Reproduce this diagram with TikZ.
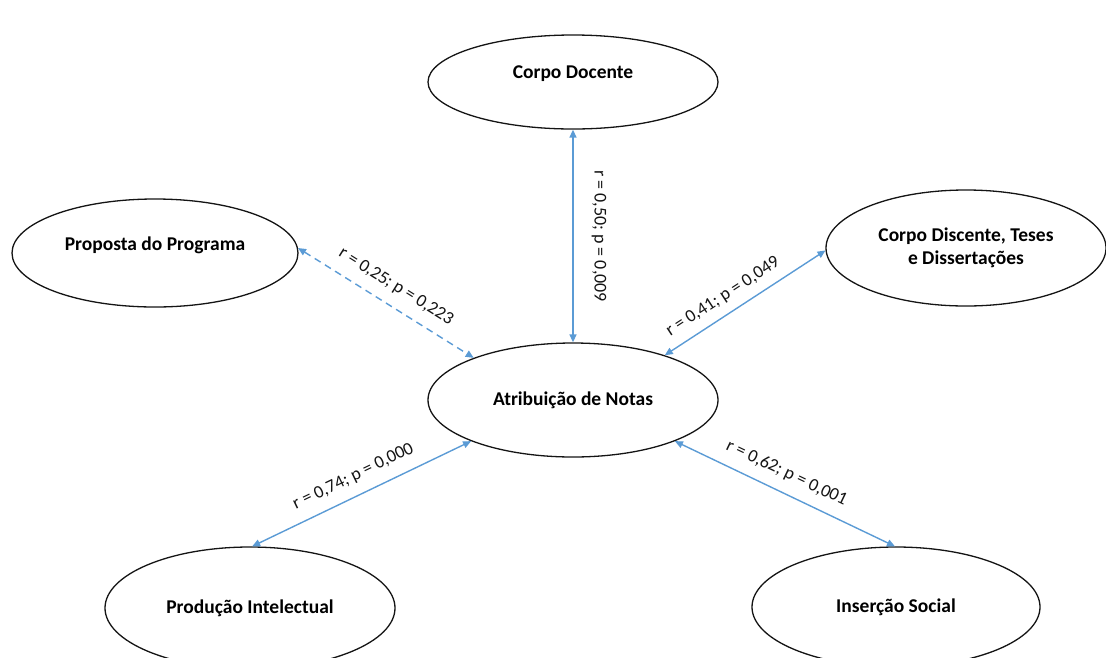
\documentclass[tikz,border=0pt]{standalone}
\usepackage{fontspec}
\setmainfont{Carlito}
\usepackage{tikz}
\usetikzlibrary{arrows.meta,positioning,shapes.geometric}
\definecolor{linkblue}{RGB}{91,155,213}
\definecolor{ink}{RGB}{20,20,20}
\newcommand{\lift}[1]{\raisebox{8pt}[\height][\depth]{#1}}
\tikzset{
  >={Triangle[length=8pt,width=7pt]},
  factor/.style={ellipse,draw=ink,line width=1.3pt,fill=white,inner sep=0pt,
    minimum width=#1,align=center,font=\fontsize{19.5}{23}\selectfont\bfseries},
  factor/.default=290pt,
  corr/.style={<->,line width=1.4pt,draw=linkblue},
  weak corr/.style={corr,dash pattern=on 7pt off 5pt},
  stat/.style={font=\fontsize{18}{21}\selectfont,text=ink,inner sep=3pt},
}
\begin{document}
\begin{tikzpicture}[x=1pt,y=-1pt]
  \useasboundingbox (0,0) rectangle (1106,657);
  % factors
  \node[factor,minimum height=94pt] (doc) at (573,82) {\lift{Corpo Docente}};
  \node[factor=286pt,minimum height=108pt] (prop) at (155,253) {\lift{Proposta do Programa}};
  \node[factor=280pt,minimum height=116pt] (disc) at (966,248) {Corpo Discente, Teses\\e Dissertações};
  \node[factor,minimum height=114pt] (atr) at (573,400) {Atribuição de Notas};
  \node[factor,minimum height=122pt] (prod) at (250,608) {Produção Intelectual};
  \node[factor=288pt,minimum height=120pt] (ins) at (896,607) {Inserção Social};
  % correlations
  \draw[weak corr] (prop.2) -- node[stat,sloped,above=8pt] {r = 0,25; p = 0,223} (atr.157);
  \draw[corr] (doc.south) -- node[stat,rotate=-90,anchor=south,inner sep=18pt] {r = 0,50; p = 0,009} (atr.north);
  \draw[corr] (atr.26) -- node[stat,sloped,above=6pt,pos=0.42] {r = 0,41; p = 0,049} (disc.181);
  \draw[corr] (prod.88) -- node[stat,sloped,above=8pt] {r = 0,74; p = 0,000} (atr.202);
  \draw[corr] (atr.338) -- node[stat,sloped,above=8pt,pos=0.47] {r = 0,62; p = 0,001} (ins.91);
\end{tikzpicture}
\end{document}
